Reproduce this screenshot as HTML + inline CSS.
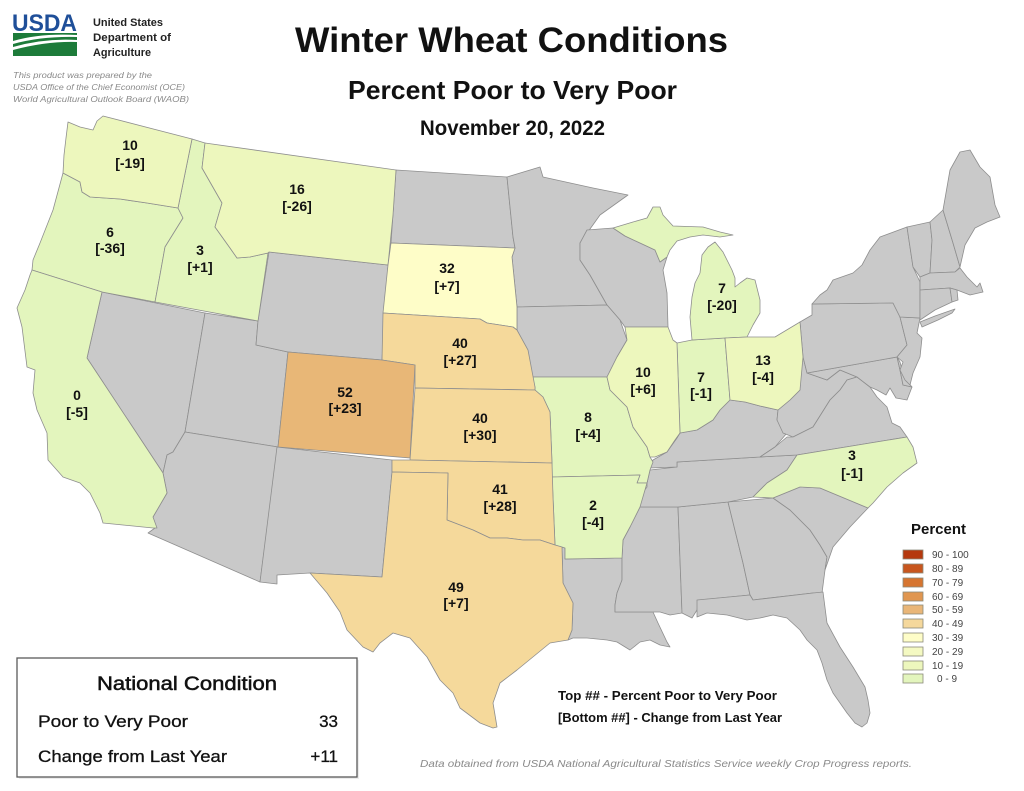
<!DOCTYPE html>
<html><head><meta charset="utf-8"><style>
html,body{margin:0;padding:0;background:#fff;}
svg{display:block;}
text{font-family:"Liberation Sans",Arial,sans-serif;}
</style></head><body>
<svg width="1024" height="791" viewBox="0 0 1024 791" xmlns="http://www.w3.org/2000/svg">
<rect width="1024" height="791" fill="#fff"/>
<!-- USDA logo -->
<text x="12" y="31" font-size="24" font-weight="bold" fill="#1f4f99" textLength="65" lengthAdjust="spacingAndGlyphs">USDA</text>
<rect x="13" y="33" width="64" height="23" fill="#1d7b3a"/>
<path d="M13,41 Q40,33 77,35 L77,37 Q42,36 13,44 Z" fill="#fff"/>
<path d="M13,47 Q45,38 77,40 L77,42 Q47,41 13,50 Z" fill="#fff"/>
<text x="93" y="26" font-size="11" font-weight="bold" fill="#222" textLength="70" lengthAdjust="spacingAndGlyphs">United States</text>
<text x="93" y="41" font-size="11" font-weight="bold" fill="#222" textLength="78" lengthAdjust="spacingAndGlyphs">Department of</text>
<text x="93" y="56" font-size="11" font-weight="bold" fill="#222" textLength="58" lengthAdjust="spacingAndGlyphs">Agriculture</text>
<text x="13" y="78" font-size="8.5" font-style="italic" fill="#8a8a8a" textLength="139" lengthAdjust="spacingAndGlyphs">This product was prepared by the</text>
<text x="13" y="90" font-size="8.5" font-style="italic" fill="#8a8a8a" textLength="172" lengthAdjust="spacingAndGlyphs">USDA Office of the Chief Economist (OCE)</text>
<text x="13" y="102" font-size="8.5" font-style="italic" fill="#8a8a8a" textLength="176" lengthAdjust="spacingAndGlyphs">World Agricultural Outlook Board (WAOB)</text>

<!-- Titles -->
<text x="295" y="52" font-size="35" font-weight="bold" fill="#111" textLength="433" lengthAdjust="spacingAndGlyphs">Winter Wheat Conditions</text>
<text x="348" y="99" font-size="26" font-weight="bold" fill="#111" textLength="329" lengthAdjust="spacingAndGlyphs">Percent Poor to Very Poor</text>
<text x="420" y="135" font-size="21" font-weight="bold" fill="#111" textLength="185" lengthAdjust="spacingAndGlyphs">November 20, 2022</text>

<!-- Map -->
<g stroke="#8e8e8e" stroke-width="0.8" stroke-linejoin="round">
<!-- gray states -->
<g fill="#c9c9c9">
<polygon points="102,292 205,313 185,432 173,452 167,455 163,473 87,358"/>
<polygon points="205,313 258,321 256,345 288,352 278,447 185,432"/>
<polygon points="269,252 388,265 382,360 288,352 256,345 258,321"/>
<polygon points="185,432 278,447 260,582 148,533 155,528 153,517 167,493 163,473 167,455 173,452"/>
<polygon points="277,447 392,460 392,472 382,577 310,573 277,575 277,584 260,582"/>
<polygon points="396,170 507,177 513,237 515,248 391,243"/>
<polygon points="507,177 540,167 543,177 593,188 628,195 600,215 580,243 580,260 590,275 607,305 517,307 512,257 515,248 513,237"/>
<polygon points="580,243 587,230 613,228 625,236 640,243 655,250 660,262 667,257 663,270 667,293 668,327 625,327 620,320 607,305 590,275 580,260"/>
<polygon points="517,307 607,305 620,320 627,340 617,357 607,377 530,377 527,360 517,330"/>
<polygon points="565,559 622,558 622,580 617,593 615,605 615,612 653,612 658,623 667,642 670,647 660,645 650,640 640,642 630,650 617,642 607,640 587,638 573,638 568,640 572,630 573,603 563,583 562,547 565,548"/>
<polygon points="640,507 678,507 680,560 682,613 670,615 660,612 653,612 615,612 615,605 617,593 622,580 622,558 623,540 630,527"/>
<polygon points="678,507 728,502 743,563 750,595 700,600 697,610 692,618 682,613 680,560"/>
<polygon points="728,502 773,498 790,510 810,530 820,545 827,557 825,570 822,593 813,593 753,600 750,595 743,563"/>
<polygon points="773,498 800,487 820,488 868,508 850,527 833,547 825,570 827,557 820,545 810,530 790,510"/>
<polygon points="697,600 750,595 753,600 813,593 823,592 827,623 840,647 853,667 865,687 868,700 870,713 867,723 862,727 855,723 847,713 840,703 833,693 827,680 822,663 817,650 807,640 800,630 787,618 773,615 760,618 747,620 727,615 707,613 697,617"/>
<polygon points="650,470 677,467 677,462 760,457 797,455 787,470 767,483 753,497 728,502 678,507 640,507 637,500 647,487 647,483"/>
<polygon points="650,468 653,460 667,452 677,438 680,433 697,430 713,420 720,410 730,400 745,402 760,406 778,410 777,420 787,433 775,447 760,457 677,462 677,467"/>
<polygon points="800,322 803,357 807,373 827,380 840,370 857,377 847,380 840,390 830,400 813,427 793,437 783,433 777,420 778,410 790,400 800,390"/>
<polygon points="760,457 775,447 787,437 793,437 813,427 830,400 840,390 847,380 857,377 870,387 877,397 887,407 892,423 900,427 907,437 797,455"/>
<polygon points="807,373 897,357 900,370 903,385 912,387 907,400 896,398 890,388 886,395 877,390 870,387 857,377 840,370 827,380"/>
<polygon points="897,357 900,362 904,377 912,387 903,385 900,370"/>
<polygon points="800,322 812,315 812,304 893,303 900,317 907,345 897,357 807,373 803,357"/>
<polygon points="900,317 920,318 917,333 922,338 920,357 913,373 910,385 905,380 900,370 903,362 897,357 907,345"/>
<polygon points="812,304 820,295 827,290 833,280 853,273 862,265 870,250 880,237 907,227 913,267 920,282 920,318 900,317 893,303"/>
<polygon points="920,322 935,316 955,309 952,313 938,320 922,327"/>
<polygon points="907,227 930,222 932,240 930,273 920,277 913,267"/>
<polygon points="930,222 943,210 953,243 960,267 955,272 930,273 932,240"/>
<polygon points="943,210 950,170 960,152 970,150 980,167 990,177 995,205 1000,217 987,222 975,228 965,245 960,267 953,243"/>
<polygon points="920,277 930,273 955,272 960,268 967,277 977,287 980,283 983,292 970,295 957,290 950,288 920,290"/>
<polygon points="920,290 950,288 952,302 935,310 920,320"/>
<polygon points="950,288 957,290 958,300 952,302"/>
</g>
<!-- 0-9 -->
<g fill="#e3f5bd">
<polygon points="63,173 80,182 82,192 90,197 120,199 147,203 178,208 183,218 165,247 160,275 155,302 102,292 32,270 33,260 40,243 53,210"/>
<polygon points="192,139 205,143 202,168 222,203 215,227 230,248 237,258 250,257 268,253 258,321 155,302 160,275 165,247 183,218 178,208"/>
<polygon points="32,270 102,292 87,358 163,473 167,493 153,517 157,528 153,528 103,523 100,513 90,493 80,483 63,477 48,460 47,433 37,410 33,393 35,370 27,367 22,327 17,308 25,290 30,275"/>
<polygon points="530,377 607,377 610,390 627,407 633,427 647,447 650,457 653,462 650,470 647,483 637,483 640,475 552,477 552,463 550,412 543,397 535,390 535,387"/>
<polygon points="552,477 640,475 637,483 647,483 640,507 630,527 623,540 622,558 565,559 565,548 555,545 553,497"/>
<polygon points="677,343 692,340 725,338 730,400 720,410 713,420 697,430 680,433"/>
<polygon points="613,228 633,222 647,218 653,207 660,207 663,215 673,226 703,227 720,232 733,235 720,237 703,235 690,237 677,241 670,250 667,257 660,262 655,250 640,243 625,236"/>
<polygon points="692,340 725,338 747,337 753,325 760,313 760,300 755,280 747,278 740,283 735,287 735,278 732,270 723,252 715,242 708,247 702,255 700,273 695,283 692,297 690,317"/>
<polygon points="753,497 767,483 787,470 797,455 907,437 913,447 917,463 903,473 887,487 873,503 868,508 820,488 800,487 773,498"/>
</g>
<!-- 10-19 -->
<g fill="#edf7bd">
<polygon points="68,122 80,127 93,130 97,121 103,116 192,139 178,208 147,203 120,199 90,197 82,192 80,182 63,173 64,155 66,138"/>
<polygon points="205,143 396,170 393,215 388,265 269,252 268,253 250,257 237,258 230,248 215,227 222,203 202,168"/>
<polygon points="625,327 668,327 673,340 677,343 680,433 675,440 667,452 655,457 650,457 647,447 633,427 627,407 610,390 607,377 617,357 627,340"/>
<polygon points="725,338 747,337 775,337 800,322 803,357 800,390 790,400 778,410 760,406 745,402 730,400"/>
</g>
<!-- 30-39 -->
<polygon fill="#fefdc8" points="391,243 515,248 512,257 517,307 517,330 513,327 487,323 480,319 383,313 388,265"/>
<!-- 40-49 -->
<g fill="#f5d99b">
<polygon points="383,313 480,319 487,323 513,327 517,330 528,350 535,387 535,390 415,388 415,365 382,360"/>
<polygon points="415,388 535,390 543,397 550,412 552,463 410,460"/>
<polygon points="392,460 410,460 552,463 553,497 555,545 540,540 523,540 507,538 490,538 473,530 447,520 448,473 392,472"/>
<polygon points="392,472 448,473 447,520 473,530 490,538 507,538 523,540 540,540 555,545 562,547 563,583 573,603 572,630 568,640 550,643 517,670 500,683 493,703 497,727 493,728 480,723 460,708 453,693 440,680 427,657 410,638 393,633 380,643 373,652 363,647 347,630 340,612 327,593 310,573 382,577"/>
</g>
<!-- 50-59 -->
<polygon fill="#e8b777" points="288,352 382,360 415,365 410,458 278,447"/>
</g>

<!-- State labels -->
<g font-size="14" font-weight="bold" fill="#111" text-anchor="middle">
<text x="130" y="150">10</text><text x="130" y="168">[-19]</text>
<text x="297" y="194">16</text><text x="297" y="211">[-26]</text>
<text x="110" y="237">6</text><text x="110" y="253">[-36]</text>
<text x="200" y="255">3</text><text x="200" y="272">[+1]</text>
<text x="77" y="400">0</text><text x="77" y="417">[-5]</text>
<text x="345" y="397">52</text><text x="345" y="413">[+23]</text>
<text x="447" y="273">32</text><text x="447" y="291">[+7]</text>
<text x="460" y="348">40</text><text x="460" y="365">[+27]</text>
<text x="480" y="423">40</text><text x="480" y="440">[+30]</text>
<text x="500" y="494">41</text><text x="500" y="511">[+28]</text>
<text x="456" y="592">49</text><text x="456" y="608">[+7]</text>
<text x="588" y="422">8</text><text x="588" y="439">[+4]</text>
<text x="593" y="510">2</text><text x="593" y="527">[-4]</text>
<text x="643" y="377">10</text><text x="643" y="394">[+6]</text>
<text x="701" y="382">7</text><text x="701" y="398">[-1]</text>
<text x="763" y="365">13</text><text x="763" y="382">[-4]</text>
<text x="722" y="293">7</text><text x="722" y="310">[-20]</text>
<text x="852" y="460">3</text><text x="852" y="478">[-1]</text>
</g>

<!-- Legend -->
<text x="911" y="534" font-size="15" font-weight="bold" fill="#111" textLength="55" lengthAdjust="spacingAndGlyphs">Percent</text>
<g stroke="#8a8a7a" stroke-width="0.8">
<rect x="903" y="550" width="20" height="9" fill="#b5390e"/>
<rect x="903" y="564" width="20" height="9" fill="#c8561e"/>
<rect x="903" y="578" width="20" height="9" fill="#d67530"/>
<rect x="903" y="592" width="20" height="9" fill="#e09650"/>
<rect x="903" y="605" width="20" height="9" fill="#e9b678"/>
<rect x="903" y="619" width="20" height="9" fill="#f5d89c"/>
<rect x="903" y="633" width="20" height="9" fill="#fefdc8"/>
<rect x="903" y="647" width="20" height="9" fill="#f4f9c2"/>
<rect x="903" y="661" width="20" height="9" fill="#edf7bd"/>
<rect x="903" y="674" width="20" height="9" fill="#e3f5bd"/>
</g>
<g font-size="10" fill="#444">
<text x="932" y="558">90 - 100</text>
<text x="932" y="572">80 - 89</text>
<text x="932" y="586">70 - 79</text>
<text x="932" y="600">60 - 69</text>
<text x="932" y="613">50 - 59</text>
<text x="932" y="627">40 - 49</text>
<text x="932" y="641">30 - 39</text>
<text x="932" y="655">20 - 29</text>
<text x="932" y="669">10 - 19</text>
<text x="937" y="682">0 - 9</text>
</g>

<!-- Key text -->
<text x="558" y="700" font-size="13" font-weight="bold" fill="#111" textLength="219" lengthAdjust="spacingAndGlyphs">Top ## - Percent Poor to Very Poor</text>
<text x="558" y="722" font-size="13" font-weight="bold" fill="#111" textLength="224" lengthAdjust="spacingAndGlyphs">[Bottom ##] - Change from Last Year</text>
<text x="420" y="767" font-size="10.5" font-style="italic" fill="#8a8a8a" textLength="492" lengthAdjust="spacingAndGlyphs">Data obtained from USDA National Agricultural Statistics Service weekly Crop Progress reports.</text>

<!-- National condition box -->
<rect x="19" y="660" width="340" height="119" fill="#ececec"/>
<rect x="17" y="658" width="340" height="119" fill="#fff" stroke="#5a5a5a" stroke-width="1.3"/>
<text x="97" y="690" font-size="19" fill="#111" stroke="#111" stroke-width="0.5" textLength="180" lengthAdjust="spacingAndGlyphs">National Condition</text>
<text x="38" y="727" font-size="17" fill="#111" stroke="#111" stroke-width="0.3" textLength="150" lengthAdjust="spacingAndGlyphs">Poor to Very Poor</text>
<text x="338" y="727" font-size="17" fill="#111" stroke="#111" stroke-width="0.3" text-anchor="end">33</text>
<text x="38" y="762" font-size="17" fill="#111" stroke="#111" stroke-width="0.3" textLength="189" lengthAdjust="spacingAndGlyphs">Change from Last Year</text>
<text x="338" y="762" font-size="17" fill="#111" stroke="#111" stroke-width="0.3" text-anchor="end">+11</text>
</svg>
</body></html>
